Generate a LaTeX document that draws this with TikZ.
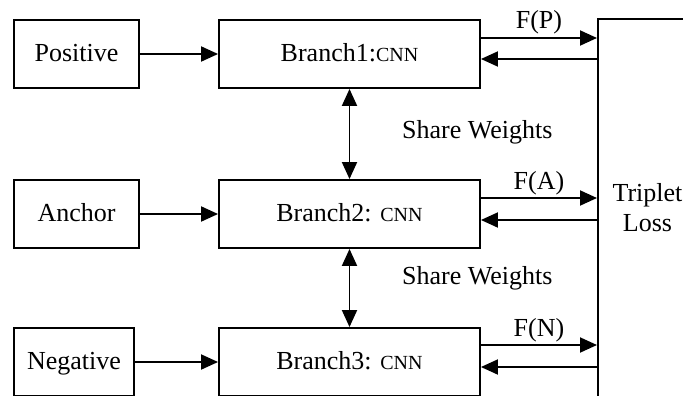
\documentclass[tikz,border=0pt]{standalone}
\usepackage{fontspec}
\setmainfont{Liberation Serif}
\usetikzlibrary{arrows.meta,calc}
\newcommand{\cnnfont}{\fontsize{20}{24}\selectfont}
\begin{document}
\begin{tikzpicture}[x=1pt,y=-1pt,
  every node/.style={font=\fontsize{26}{30}\selectfont},
  box/.style={draw, line width=1.9pt, minimum height=68pt, inner sep=0pt,
    text height=20pt, text depth=5pt},
  inbox/.style={box, minimum width=125pt},
  branch/.style={box, minimum width=261pt},
  tip/.style={Triangle[length=17pt,width=15pt]},
  arr/.style={line width=1.9pt, -{Triangle[length=17pt,width=15pt]}},
  dbl/.style={line width=1.9pt, {Triangle[length=17pt,width=15pt]}-{Triangle[length=17pt,width=15pt]}},
  flabel/.style={midway, anchor=base, yshift=9pt, inner sep=0pt},
  plain/.style={inner sep=0pt}]
\clip (0,0) rectangle (683,396);
\fill[white] (0,0) rectangle (683,396);

% inputs
\node[inbox] (pos) at (76.5,54) {Positive};
\node[inbox] (anc) at (76.5,214) {Anchor};
\node[inbox, minimum width=120pt] (neg) at (74,362) {Negative};

% the three weight-sharing branches
\node[branch] (b1) at (349.5,54) {Branch1:{\cnnfont CNN}};
\node[branch] (b2) at (349.5,214) {Branch2: {\cnnfont CNN}};
\node[branch] (b3) at (349.5,362) {Branch3: {\cnnfont CNN}};

% loss block
\node[draw, line width=1.9pt, anchor=north west, minimum width=200pt,
  minimum height=500pt, inner sep=0pt] (loss) at (597,18) {};
\node[plain, align=center] (lt) at (647.5,208) {Triplet\\Loss};

% inputs into branches
\draw[arr] (pos) -- (b1);
\draw[arr] (anc) -- (b2);
\draw[arr] (neg) -- (b3);

% shared weights
\draw[dbl] (b1) -- (b2);
\draw[dbl] (b2) -- (b3);
\node[plain, anchor=base west] (sw1) at (402,138) {Share Weights};
\node[plain, anchor=base west] (sw2) at (402,284) {Share Weights};

% embeddings out, gradients back
\coordinate (o1) at ($(b1.east)+(0,-16)$);
\coordinate (i1) at ($(b1.east)+(0,5)$);
\coordinate (o2) at ($(b2.east)+(0,-16)$);
\coordinate (i2) at ($(b2.east)+(0,6)$);
\coordinate (o3) at ($(b3.east)+(0,-17)$);
\coordinate (i3) at ($(b3.east)+(0,5)$);

\draw[arr] (o1) -- (o1 -| loss.west) node[flabel] (fp) {F(P)};
\draw[arr] (i1 -| loss.west) -- (i1);
\draw[arr] (o2) -- (o2 -| loss.west) node[flabel] (fa) {F(A)};
\draw[arr] (i2 -| loss.west) -- (i2);
\draw[arr] (o3) -- (o3 -| loss.west) node[flabel] (fn) {F(N)};
\draw[arr] (i3 -| loss.west) -- (i3);
\end{tikzpicture}
\end{document}
